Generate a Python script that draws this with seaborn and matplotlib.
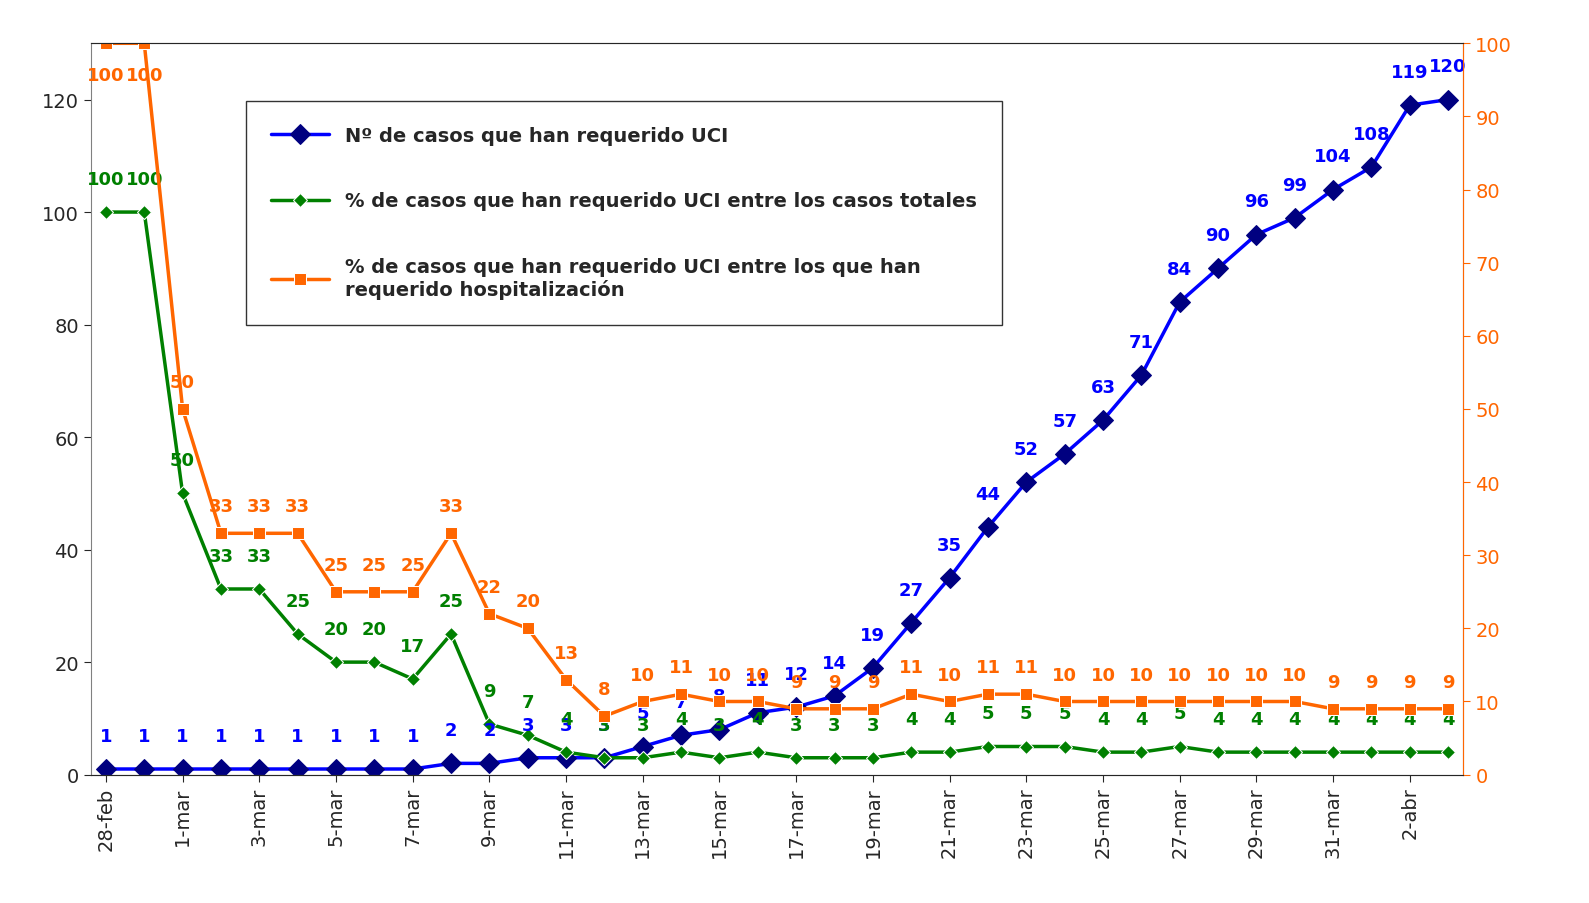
import numpy as np
import pandas as pd
import matplotlib
matplotlib.use("Agg")
import matplotlib.pyplot as plt
import seaborn as sns

dates = ["28-feb", "29-feb"] + [f"{d}-mar" for d in range(1, 32)] + [f"{d}-abr" for d in range(1, 4)]
uci = [1, 1, 1, 1, 1, 1, 1, 1, 1, 2, 2, 3, 3, 3, 5, 7, 8, 11, 12, 14,
       19, 27, 35, 44, 52, 57, 63, 71, 84, 90, 96, 99, 104, 108, 119, 120]
pct_total = [100, 100, 50, 33, 33, 25, 20, 20, 17, 25, 9, 7, 4, 3, 3, 4, 3, 4,
             3, 3, 3, 4, 4, 5, 5, 5, 4, 4, 5, 4, 4, 4, 4, 4, 4, 4]
pct_hosp = [100, 100, 50, 33, 33, 33, 25, 25, 25, 33, 22, 20, 13, 8, 10, 11, 10, 10,
            9, 9, 9, 11, 10, 11, 11, 10, 10, 10, 10, 10, 10, 10, 9, 9, 9, 9]

x = np.arange(len(dates))
df = pd.DataFrame({"x": x, "uci": uci, "total": pct_total, "hosp": pct_hosp})

sns.set_style("white")
fig, ax = plt.subplots(figsize=(15.89, 9.04), dpi=100)
ax2 = ax.twinx()

sns.lineplot(data=df, x="x", y="uci", ax=ax, color="#0000FF", lw=2.5, marker="D",
             markersize=10, markerfacecolor="#000080", markeredgecolor="#000080",
             label="Nº de casos que han requerido UCI", legend=False)
sns.lineplot(data=df, x="x", y="total", ax=ax, color="#008000", lw=2.5, marker="D",
             markersize=7, label="% de casos que han requerido UCI entre los casos totales", legend=False)
sns.lineplot(data=df, x="x", y="hosp", ax=ax2, color="#FF6600", lw=2.5, marker="s",
             markersize=9, label="% de casos que han requerido UCI entre los que han\nrequerido hospitalización", legend=False)

for xi, v in zip(x, uci):
    ax.text(xi, v + 5, str(v), color="#0000FF", fontsize=13, fontweight="bold", ha="center")
for xi, v in zip(x, pct_total):
    ax.text(xi, v + 5, str(v), color="#008000", fontsize=13, fontweight="bold", ha="center")
for xi, v in zip(x, pct_hosp):
    ax2.text(xi, v - 5 if xi < 2 else v + 3, str(v), color="#FF6600", fontsize=13, fontweight="bold", ha="center")

ax.set_ylim(0, 130)
ax2.set_ylim(0, 100)
ax.set_yticks(range(0, 121, 20))
ax2.set_yticks(range(0, 101, 10))
ax.set_xlim(-0.4, len(dates) - 0.6)
ax.set_xticks(x[::2])
ax.set_xticklabels(dates[::2], rotation=90, fontsize=14)
ax.tick_params(axis="y", labelsize=14, length=5, direction="out", left=True)
ax2.tick_params(axis="y", labelsize=14, colors="#FF6600", length=5, direction="out")
ax.tick_params(axis="x", bottom=True, length=5)
ax.set_xlabel("")
ax.set_ylabel("")
ax2.set_ylabel("")
for s in ax.spines.values():
    s.set_color("#808080")
ax2.spines["right"].set_color("#FF6600")
ax2.spines["left"].set_visible(False)

h1, l1 = ax.get_legend_handles_labels()
h2, l2 = ax2.get_legend_handles_labels()
leg = ax.legend(h1 + h2, l1 + l2, loc="upper left", bbox_to_anchor=(0.106, 0.935),
                fontsize=14, frameon=True, fancybox=False, edgecolor="black",
                labelspacing=2.4, handlelength=3, borderpad=1.3)
for t in leg.get_texts():
    t.set_fontweight("bold")

plt.subplots_adjust(left=0.057, right=0.921, top=0.951, bottom=0.142)
fig.savefig("out.png")
